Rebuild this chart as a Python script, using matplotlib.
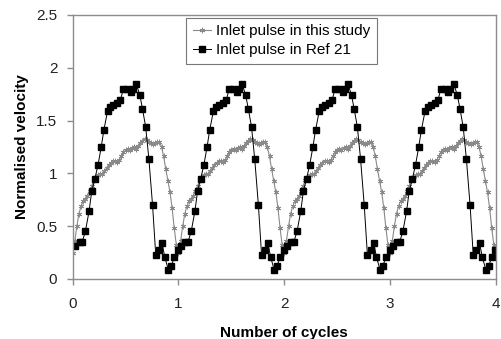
import numpy as np
import matplotlib.pyplot as plt

plt.rcParams['font.family'] = ['Liberation Sans', 'DejaVu Sans']

n_cycles = 4

# one cycle of the inlet pulse used here (phase within the cycle, normalised velocity)
study_phase = [0.00, 0.02, 0.04, 0.06, 0.08, 0.10, 0.12, 0.14, 0.16, 0.18,
               0.20, 0.22, 0.24, 0.26, 0.28, 0.30, 0.32, 0.34, 0.36, 0.38,
               0.40, 0.42, 0.44, 0.46, 0.48, 0.50, 0.52, 0.54, 0.56, 0.58,
               0.60, 0.62, 0.64, 0.66, 0.68, 0.70, 0.72, 0.74, 0.76, 0.78,
               0.80, 0.82, 0.84, 0.86, 0.88, 0.90, 0.92, 0.94, 0.96, 0.98]
study_vel = [0.25, 0.36, 0.50, 0.62, 0.69, 0.74, 0.76, 0.79, 0.83, 0.88,
             0.94, 0.97, 0.98, 0.99, 0.99, 1.02, 1.05, 1.08, 1.10, 1.12,
             1.12, 1.11, 1.13, 1.16, 1.20, 1.22, 1.23, 1.22, 1.24, 1.25,
             1.23, 1.26, 1.29, 1.31, 1.33, 1.32, 1.30, 1.29, 1.28, 1.29,
             1.30, 1.30, 1.25, 1.16, 1.04, 0.93, 0.82, 0.67, 0.48, 0.32]

# one cycle of the Ref 21 pulse
ref_phase = [0.025, 0.065, 0.09, 0.12, 0.155, 0.18, 0.21, 0.24, 0.27, 0.295,
             0.33, 0.355, 0.385, 0.42, 0.45, 0.48, 0.515, 0.55, 0.57, 0.60,
             0.635, 0.66, 0.69, 0.72, 0.755, 0.785, 0.815, 0.845, 0.87, 0.905,
             0.93, 0.96, 0.995]
ref_vel = [0.31, 0.35, 0.35, 0.45, 0.64, 0.83, 0.95, 1.08, 1.25, 1.41,
           1.59, 1.63, 1.65, 1.67, 1.69, 1.80, 1.80, 1.77, 1.80, 1.85,
           1.74, 1.61, 1.44, 1.14, 0.70, 0.23, 0.27, 0.34, 0.21, 0.085,
           0.12, 0.205, 0.275]

# repeat the cycle over the four cycles shown
cycles = np.arange(n_cycles)
x_study = np.concatenate([c + np.array(study_phase) for c in cycles] + [[n_cycles]])
y_study = np.concatenate([study_vel] * n_cycles + [[study_vel[0]]])
x_ref = np.concatenate([c + np.array(ref_phase) for c in cycles])
y_ref = np.concatenate([ref_vel] * n_cycles)

fig = plt.figure(figsize=(5.01, 3.39), dpi=100)
ax = fig.add_axes([0.145, 0.177, 0.845, 0.779])

ax.plot(x_study, y_study, color='#8a8a8a', lw=0.8, marker=(6, 2, 0),
        markersize=4, markeredgewidth=0.6, label='Inlet pulse in this study')
ax.plot(x_ref, y_ref, color='black', lw=0.7, marker='s', markersize=4.5,
        label='Inlet pulse in Ref 21')

ax.set_xlim(0, 4)
ax.set_ylim(0, 2.5)
ax.set_xticks([0, 1, 2, 3, 4])
ax.set_yticks([0, 0.5, 1, 1.5, 2, 2.5])
ax.set_yticklabels(['0', '0.5', '1', '1.5', '2', '2.5'])

for s in ax.spines.values():
    s.set_color('#8c8c8c')
    s.set_linewidth(1.0)
ax.tick_params(axis='x', direction='out', length=4, width=1, color='#8c8c8c',
               pad=9, labelsize=11, labelcolor='#222222')
ax.tick_params(axis='y', direction='out', length=4, width=1, color='#8c8c8c',
               pad=7, labelsize=11, labelcolor='#222222')

ax.set_xlabel('Number of cycles', fontsize=11, fontweight='bold', labelpad=11)
ax.set_ylabel('Normalised velocity', fontsize=11, fontweight='bold', labelpad=5)

leg = ax.legend(loc='upper left', bbox_to_anchor=(0.268, 0.99), fontsize=11,
                frameon=True, fancybox=False, handlelength=1.2, handletextpad=0.3,
                borderpad=0.45, labelspacing=0.3, borderaxespad=0)
leg.get_frame().set_edgecolor('#555555')
leg.get_frame().set_linewidth(0.8)

fig.savefig('out.png', dpi=100)
